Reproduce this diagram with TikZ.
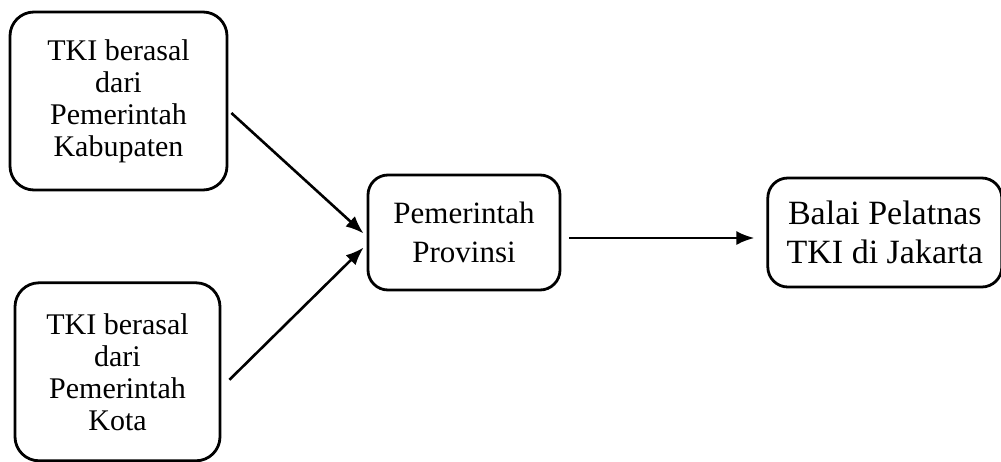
\documentclass[tikz,border=0pt]{standalone}
\usepackage{fontspec}
\setmainfont{Liberation Serif}
\usepackage{tikz}
\usetikzlibrary{arrows.meta,positioning}

\begin{document}
\begin{tikzpicture}[
  x=1pt, y=-1pt,
  box/.style={draw, line width=2.8pt, rounded corners=24pt, align=center, inner sep=2pt},
  srcbox/.style={box, minimum height=178pt, font=\fontsize{30}{32}\selectfont},
  arr/.style={-{Latex[length=18pt,width=14pt]}, line width=2.6pt}
]
  \useasboundingbox (0,0) rectangle (1001,461);

  \node[srcbox, minimum width=217pt] (kab) at (118.5,101) {TKI berasal\\dari\\Pemerintah\\Kabupaten};
  \node[srcbox, minimum width=205pt, below=90pt of kab, xshift=-1pt] (kota) {TKI berasal\\dari\\Pemerintah\\Kota};

  \node[box, rounded corners=20pt, minimum width=192pt, minimum height=115pt,
        font=\fontsize{31}{39}\selectfont] (prov) at (464,232.5) {Pemerintah\\Provinsi};
  \node[box, rounded corners=20pt, minimum width=234pt, minimum height=109pt,
        font=\fontsize{34}{39}\selectfont, right=205pt of prov] (balai) {Balai Pelatnas\\TKI di Jakarta};

  \draw[arr] ([xshift=3pt,yshift=-12pt]kab.east) -- ([xshift=-3pt,yshift=-1pt]prov.west);
  \draw[arr] ([xshift=8pt,yshift=-8pt]kota.east) -- ([xshift=-3pt,yshift=-15pt]prov.west);
  \draw[arr] ([xshift=8pt,yshift=-5.5pt]prov.east) -- ([xshift=-12pt,yshift=-5.5pt]balai.west);
\end{tikzpicture}
\end{document}
